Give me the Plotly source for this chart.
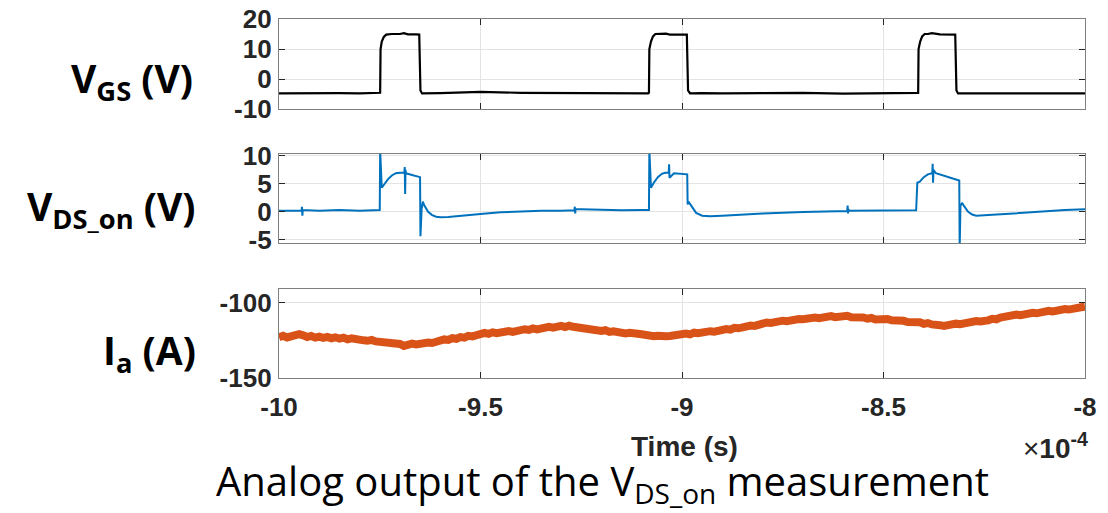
import plotly.graph_objects as go

# ---- data (time in units of 1e-4 s) ----
t_vgs = [-10.000, -9.950, -9.900, -9.850, -9.800, -9.752, -9.749, -9.748, -9.745, -9.740,
         -9.734, -9.720, -9.700, -9.690, -9.680, -9.660, -9.652, -9.649, -9.645, -9.600,
         -9.500, -9.400, -9.300, -9.200, -9.120, -9.084, -9.082, -9.081, -9.077, -9.072,
         -9.066, -9.050, -9.040, -9.030, -9.010, -8.988, -8.985, -8.980, -8.950, -8.900,
         -8.800, -8.700, -8.600, -8.500, -8.450, -8.416, -8.414, -8.413, -8.409, -8.404,
         -8.398, -8.390, -8.380, -8.360, -8.330, -8.322, -8.319, -8.315, -8.300, -8.200,
         -8.100, -8.000]
v_gs = [-4.8, -4.7, -4.8, -4.7, -4.8, -4.8, -4.6, 10.0, 12.5, 14.0,
        14.8, 15.0, 15.0, 15.3, 14.9, 14.9, 14.8, -3.8, -4.8, -4.7,
        -4.3, -4.6, -4.7, -4.8, -4.7, -4.8, -4.6, 10.0, 12.5, 14.2,
        15.0, 15.0, 15.1, 14.8, 14.9, 14.8, -3.8, -4.8, -4.7, -4.8,
        -4.7, -4.6, -4.9, -4.8, -4.7, -4.8, -4.6, 10.0, 12.5, 14.2,
        15.0, 15.0, 15.3, 14.9, 14.9, 14.8, -3.8, -4.8, -4.8, -4.7,
        -4.8, -4.8]

t_vds = [-10.000, -9.970, -9.945, -9.944, -9.943, -9.942, -9.941, -9.900, -9.850, -9.800,
         -9.751, -9.750, -9.749, -9.747, -9.745, -9.740, -9.730, -9.720, -9.710, -9.700,
         -9.690, -9.689, -9.688, -9.687, -9.686, -9.685, -9.670, -9.655, -9.652, -9.650,
         -9.649, -9.646, -9.643, -9.640, -9.630, -9.620, -9.610, -9.600, -9.580, -9.550,
         -9.500, -9.450, -9.400, -9.350, -9.300, -9.268, -9.267, -9.266, -9.265, -9.264,
         -9.250, -9.200, -9.150, -9.100, -9.084, -9.082, -9.081, -9.079, -9.077, -9.070,
         -9.060, -9.050, -9.042, -9.034, -9.033, -9.032, -9.031, -9.020, -9.000, -8.987,
         -8.986, -8.984, -8.981, -8.975, -8.965, -8.950, -8.930, -8.900, -8.880, -8.800,
         -8.700, -8.620, -8.590, -8.589, -8.588, -8.587, -8.586, -8.550, -8.500, -8.450,
         -8.420, -8.419, -8.416, -8.410, -8.400, -8.390, -8.380, -8.379, -8.378, -8.377,
         -8.376, -8.370, -8.350, -8.330, -8.312, -8.311, -8.309, -8.305, -8.300, -8.290,
         -8.280, -8.270, -8.240, -8.200, -8.150, -8.100, -8.050, -8.000]
v_ds = [0.2, 0.25, 0.2, 0.2, 0.9, -0.7, 0.3, 0.2, 0.3, 0.2,
        0.3, 0.3, 11.0, 5.0, 4.3, 4.8, 5.8, 6.5, 6.9, 7.0,
        7.0, 7.0, 8.0, 3.2, 7.5, 6.9, 6.6, 6.3, 6.2, 6.2,
        -4.4, 0.6, 1.8, 1.2, 0.0, -0.6, -0.9, -1.0, -0.95, -0.7,
        -0.4, -0.1, 0.1, 0.2, 0.2, 0.25, 0.25, 0.9, -0.3, 0.5,
        0.45, 0.3, 0.25, 0.3, 0.3, 0.3, 11.0, 4.8, 4.3, 5.2,
        6.2, 6.8, 7.0, 7.0, 7.0, 8.5, 6.1, 6.9, 6.8, 6.7,
        1.3, 1.8, 1.5, 0.8, -0.2, -0.7, -0.8, -0.7, -0.6, -0.3,
        -0.05, 0.15, 0.15, 1.1, -0.3, 0.5, 0.2, 0.2, 0.2, 0.2,
        0.25, 0.25, 5.2, 5.4, 6.2, 6.7, 6.9, 6.9, 8.6, 5.2,
        7.5, 6.9, 6.4, 6.0, 5.6, -6.5, 1.0, 1.6, 1.0, 0.0,
        -0.5, -0.7, -0.6, -0.4, -0.1, 0.1, 0.3, 0.45]

t_ia = [round(-10.0 + 0.01 * i, 2) for i in range(201)]  # sample times
i_a = [
    -122.8, -121.9, -123.0, -122.2, -121.3, -120.8, -121.6, -122.7, -122.0, -123.1,
    -122.4, -123.2, -122.6, -123.5, -122.9, -123.8, -123.1, -124.2, -123.6, -124.4,
    -124.0, -124.9, -125.2, -124.6, -125.6, -125.9, -125.3, -126.5, -126.0, -126.9,
    -127.3, -128.6, -127.8, -127.1, -127.6, -126.8, -127.2, -126.3, -126.7, -125.6,
    -125.2, -124.3, -124.6, -123.5, -123.9, -122.7, -123.1, -121.9, -122.3, -121.2,
    -120.8, -120.0, -120.6, -119.6, -120.1, -119.2, -119.7, -118.8, -119.3, -118.4,
    -118.2, -117.5, -118.0, -117.0, -117.6, -116.6, -116.9, -115.9, -116.4, -115.6,
    -115.3, -116.1, -115.2, -115.9, -116.4, -115.8, -116.9, -117.6, -117.3, -118.4,
    -118.7, -118.2, -119.3, -118.9, -119.8, -119.4, -120.3, -119.9, -120.9, -120.5,
    -120.8, -121.6, -121.3, -122.1, -121.8, -122.7, -122.2, -122.0, -121.4, -121.6,
    -121.2, -120.4, -120.9, -119.8, -120.2, -119.4, -119.7, -118.8, -119.1, -118.2,
    -118.3, -117.4, -117.8, -116.6, -116.9, -115.9, -116.2, -115.1, -115.3, -114.2,
    -113.8, -113.0, -113.3, -112.4, -112.7, -111.8, -112.1, -111.2, -111.6, -110.7,
    -110.8, -110.1, -110.4, -109.7, -110.2, -109.4, -109.9, -108.8, -109.5, -108.9,
    -109.2, -108.6, -109.6, -109.3, -110.1, -109.7, -110.5, -110.0, -111.0, -110.6,
    -111.2, -110.7, -111.6, -111.3, -112.2, -111.9, -112.7, -112.4, -113.3, -112.9,
    -113.9, -113.4, -114.3, -114.0, -114.8, -115.3, -114.5, -114.9, -113.8, -114.2,
    -113.5, -112.9, -113.1, -112.1, -112.4, -111.3, -111.6, -110.6, -110.9, -109.8,
    -109.2, -108.5, -108.9, -107.8, -108.1, -107.2, -107.6, -106.5, -106.9, -106.0,
    -105.9, -105.3, -105.6, -104.7, -105.0, -104.0, -104.4, -103.5, -103.8, -102.9,
    -102.5]

x_ticks = [-10, -9.5, -9, -8.5, -8]
x_ticktext = ["-10", "-9.5", "-9", "-8.5", "-8"]
vgs_ticks = [-10, 0, 10, 20]
vgs_ticktext = ["-10", "0", "10", "20"]
vds_ticks = [-5, 0, 5, 10]
vds_ticktext = ["-5", "0", "5", "10"]
ia_ticks = [-150, -100]
ia_ticktext = ["-150", "-100"]

W, H = 1108, 513

def px(x):
    return x / W

def py(y):
    return 1 - y / H

def ydom(top_px, bot_px):
    return [py(bot_px), py(top_px)]

x0, x1 = px(279), px(1085)

tickfont = dict(family="Liberation Sans", size=26, color="#262626", weight="bold")
axis_common = dict(showline=True, linecolor="#7f7f7f", linewidth=1.3, mirror="allticks",
                   ticks="inside", ticklen=6, tickcolor="#262626", tickwidth=1.3,
                   showgrid=True, gridcolor="#e3e3e3", gridwidth=1, zeroline=False,
                   automargin=False, ticklabeloverflow="allow", tickfont=tickfont)

fig = go.Figure()
fig.add_trace(go.Scatter(x=t_vgs, y=v_gs, mode="lines", line=dict(color="#000000", width=2.2),
                         xaxis="x", yaxis="y", showlegend=False))
fig.add_trace(go.Scatter(x=t_vds, y=v_ds, mode="lines", line=dict(color="#0072BD", width=2),
                         xaxis="x2", yaxis="y2", showlegend=False))
fig.add_trace(go.Scatter(x=t_ia, y=i_a, mode="lines", line=dict(color="#D95319", width=8),
                         xaxis="x3", yaxis="y3", showlegend=False))

fig.update_layout(
    width=W, height=H, margin=dict(l=0, r=0, t=0, b=0, autoexpand=False),
    paper_bgcolor="white", plot_bgcolor="white",
    xaxis=dict(domain=[x0, x1], range=[-10, -8], anchor="y", tickvals=x_ticks,
               showticklabels=False, **axis_common),
    yaxis=dict(domain=ydom(19, 109), range=[-10, 20], anchor="x", tickvals=vgs_ticks,
               ticktext=vgs_ticktext, ticklabelstandoff=1, **axis_common),
    xaxis2=dict(domain=[x0, x1], range=[-10, -8], anchor="y2", tickvals=x_ticks,
                showticklabels=False, **axis_common),
    yaxis2=dict(domain=ydom(154, 243), range=[-5.6, 10.35], anchor="x2", tickvals=vds_ticks,
                ticktext=vds_ticktext, ticklabelstandoff=1, **axis_common),
    xaxis3=dict(domain=[x0, x1], range=[-10, -8], anchor="y3", tickvals=x_ticks,
                ticktext=x_ticktext, ticklabelstandoff=6, **axis_common),
    yaxis3=dict(domain=ydom(289, 378), range=[-150, -90.7], anchor="x3", tickvals=ia_ticks,
                ticktext=ia_ticktext, ticklabelstandoff=1, **axis_common),
)

lab_font = dict(family="Open Sans", size=39, color="#000000")
fig.add_annotation(text="<b>V<sub>GS</sub> (V)</b>", xref="paper", yref="paper",
                   x=px(195), y=py(80), xanchor="right", yanchor="middle",
                   showarrow=False, font=lab_font)
fig.add_annotation(text="<b>V<sub>DS_on</sub> (V)</b>", xref="paper", yref="paper",
                   x=px(198), y=py(208), xanchor="right", yanchor="middle",
                   showarrow=False, font=lab_font)
fig.add_annotation(text="<b>I<sub>a</sub> (A)</b>", xref="paper", yref="paper",
                   x=px(198), y=py(352), xanchor="right", yanchor="middle",
                   showarrow=False, font=lab_font)
fig.add_annotation(text="<b>Time (s)</b>", xref="paper", yref="paper",
                   x=px(684), y=py(446), xanchor="center", yanchor="middle",
                   showarrow=False, font=dict(family="Liberation Sans", size=28, color="#262626"))
fig.add_annotation(text="×<b>10<sup>-4</sup></b>", xref="paper", yref="paper",
                   x=px(1090), y=py(446), xanchor="right", yanchor="middle",
                   showarrow=False, font=dict(family="Liberation Sans", size=28, color="#262626"))
fig.add_annotation(text="Analog output of the V<sub>DS_on</sub> measurement", xref="paper",
                   yref="paper", x=px(214), y=py(482), xanchor="left", yanchor="middle",
                   showarrow=False, font=dict(family="Open Sans", size=40, color="#000000"))

# remove the default page margin so the figure fills the window exactly
fig.write_html("out.html", config={"displayModeBar": False},
               post_script="document.body.style.margin='0';document.body.style.overflow='hidden';")
